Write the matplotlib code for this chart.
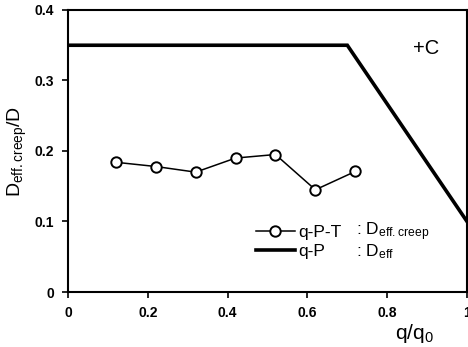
import matplotlib
matplotlib.use("Agg")
import matplotlib.pyplot as plt
from matplotlib.lines import Line2D

plt.rcParams['font.family'] = ['Liberation Sans', 'DejaVu Sans']
plt.rcParams['mathtext.default'] = 'regular'

# q-P-T test results (creep)
q_creep = [0.12, 0.22, 0.32, 0.42, 0.52, 0.62, 0.72]
d_creep = [0.184, 0.178, 0.170, 0.190, 0.195, 0.145, 0.171]

# q-P envelope
q_env = [0.0, 0.70, 1.0]
d_env = [0.35, 0.35, 0.10]

xticks = [0, 0.2, 0.4, 0.6, 0.8, 1]
xticklabels = ['0', '0.2', '0.4', '0.6', '0.8', '1']
yticks = [0, 0.1, 0.2, 0.3, 0.4]
yticklabels = ['0', '0.1', '0.2', '0.3', '0.4']

fig = plt.figure(figsize=(4.68, 3.47), dpi=100)
ax = fig.add_axes([0.1453, 0.1585, 0.8526, 0.8127])

ax.plot(q_env, d_env, color='black', lw=2.6, solid_joinstyle='miter')
ax.plot(q_creep, d_creep, color='black', lw=1.1, marker='o', ms=7.5,
        mfc='white', mec='black', mew=1.4)

ax.set_xlim(0, 1)
ax.set_ylim(0, 0.4)
ax.set_xticks(xticks)
ax.set_xticklabels(xticklabels, fontweight='bold', fontsize=10)
ax.set_yticks(yticks)
ax.set_yticklabels(yticklabels, fontweight='bold', fontsize=10)
ax.tick_params(direction='out', length=4, width=1.2, pad=6)
for s in ax.spines.values():
    s.set_linewidth(1.5)

ax.text(0.897, 0.345, '+C', fontsize=14.5, ha='center', va='center')

# legend
handles = [Line2D([0], [0], color='black', lw=1.1, marker='o', ms=7.5,
                  mfc='white', mec='black', mew=1.4),
           Line2D([0], [0], color='black', lw=2.6)]
ax.legend(handles, ['q-P-T', 'q-P'], loc='center left',
          bbox_to_anchor=(0.472, 0.178), frameon=False, fontsize=12.5,
          handlelength=2.2, handletextpad=0.2, labelspacing=0.25,
          borderpad=0, borderaxespad=0)
ax.text(0.723, 0.213, ': D$_{eff.creep}$', transform=ax.transAxes,
        fontsize=12.5, va='center')
ax.text(0.723, 0.142, ': D$_{eff}$', transform=ax.transAxes,
        fontsize=12.5, va='center')

fig.text(0.038, 0.565, 'D$_{eff.creep}$/D', rotation=90, fontsize=14,
         ha='center', va='center')
fig.text(0.885, 0.04, 'q/q$_0$', fontsize=15, ha='center', va='center')

fig.savefig('out.png', dpi=100)
